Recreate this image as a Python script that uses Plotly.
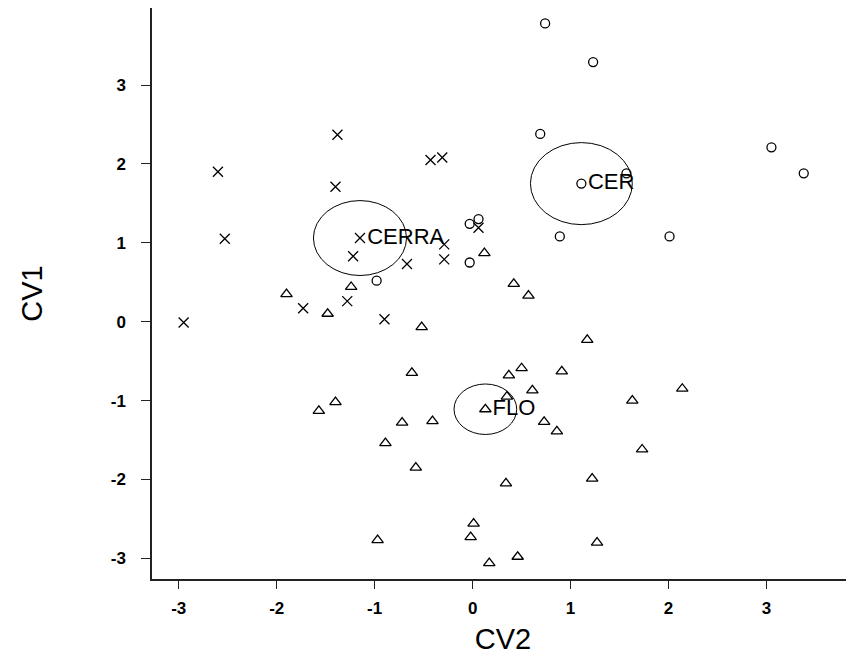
import plotly.graph_objects as go

# ---- data ----
cerra_cv2 = [-1.38, -2.60, -1.40, -0.43, -0.31, -2.53, -1.22, -0.67, -0.29, -0.29, 0.06, -1.28, -2.95, -1.73, -0.90]
cerra_cv1 = [2.37, 1.90, 1.71, 2.05, 2.08, 1.05, 0.83, 0.73, 0.98, 0.79, 1.19, 0.26, -0.01, 0.17, 0.03]

cer_cv2 = [0.74, 1.23, 0.69, 1.57, 3.05, 3.38, 0.89, 2.01, -0.03, 0.06, -0.03, -0.98]
cer_cv1 = [3.78, 3.29, 2.38, 1.88, 2.21, 1.88, 1.08, 1.08, 1.24, 1.30, 0.75, 0.52]

flo_cv2 = [0.12, 0.42, 0.57, -1.24, -1.90, -1.48, -0.52, -0.62, -1.40, -1.57, -0.72, -0.41,
           -0.89, -0.58, 0.01, -0.02, -0.97, 0.17, 1.17, 0.50, 0.37, 0.91, 0.61, 0.35,
           2.14, 1.63, 0.73, 0.86, 1.73, 1.22, 0.34, 1.27, 0.46]
flo_cv1 = [0.87, 0.48, 0.33, 0.44, 0.35, 0.10, -0.07, -0.65, -1.02, -1.13, -1.28, -1.26,
           -1.54, -1.85, -2.56, -2.73, -2.77, -3.06, -0.23, -0.59, -0.68, -0.63, -0.87, -0.95,
           -0.85, -1.00, -1.27, -1.39, -1.62, -1.99, -2.05, -2.80, -2.98]

centroid_names = ["CERRA", "CER", "FLO"]
centroid_cv2 = [-1.15, 1.11, 0.13]
centroid_cv1 = [1.06, 1.75, -1.11]
centroid_radius = [0.475, 0.52, 0.32]

x_ticks = [-3, -2, -1, 0, 1, 2, 3]
y_ticks = [-3, -2, -1, 0, 1, 2, 3]

# ---- styles ----
FONT = "Liberation Sans, Arial, sans-serif"
symbols = {"CERRA": "x-thin", "CER": "circle-open", "FLO": "triangle-up-open"}
sizes = {"CERRA": 10, "CER": 9, "FLO": 10}

fig = go.Figure()

groups = [("CERRA", cerra_cv2, cerra_cv1), ("CER", cer_cv2, cer_cv1), ("FLO", flo_cv2, flo_cv1)]
for name, xs, ys in groups:
    fig.add_trace(go.Scatter(
        x=xs, y=ys, mode="markers", name=name,
        marker=dict(symbol=symbols[name], size=sizes[name], color="black",
                    line=dict(color="black", width=1.3)),
        showlegend=False, hoverinfo="x+y",
    ))

# centroids with labels, one trace per group
for name, cx, cy in zip(centroid_names, centroid_cv2, centroid_cv1):
    fig.add_trace(go.Scatter(
        x=[cx], y=[cy], mode="markers+text",
        text=[name], textposition="middle right",
        textfont=dict(family=FONT, size=22, color="black"),
        marker=dict(symbol=symbols[name], size=sizes[name], color="black",
                    line=dict(color="black", width=1.3)),
        showlegend=False,
    ))

# confidence circles around the centroids
for cx, cy, r in zip(centroid_cv2, centroid_cv1, centroid_radius):
    fig.add_shape(type="circle", xref="x", yref="y",
                  x0=cx - r, x1=cx + r, y0=cy - r, y1=cy + r,
                  line=dict(color="black", width=1), fillcolor="rgba(0,0,0,0)")

# page body has an 8px margin, so the figure is 846x647 placed at (8,8)
fig.update_layout(
    width=846, height=647,
    margin=dict(l=144, r=0, t=0, b=76, autoexpand=False),
    paper_bgcolor="white", plot_bgcolor="white",
    font=dict(family=FONT, color="black"),
    showlegend=False,
)
fig.update_xaxes(
    range=[-3.273, 3.893], tickvals=x_ticks, ticktext=[str(v) for v in x_ticks],
    showgrid=False, zeroline=False, showline=True, linecolor="#222", linewidth=1.5,
    ticks="outside", ticklen=8, tickwidth=1.3, tickcolor="#222",
    tickfont=dict(family=FONT, size=17, color="black", weight="bold"),
    ticklabelstandoff=5,
    title=dict(text="CV2", font=dict(family=FONT, size=29, color="black"), standoff=14),
)
fig.update_yaxes(
    range=[-3.262, 3.976], tickvals=y_ticks, ticktext=[str(v) for v in y_ticks],
    showgrid=False, zeroline=False, showline=True, linecolor="#222", linewidth=1.5,
    ticks="outside", ticklen=9, tickwidth=1.3, tickcolor="#222",
    tickfont=dict(family=FONT, size=17, color="black", weight="bold"),
    ticklabelstandoff=12,
    title=dict(text="CV1", font=dict(family=FONT, size=29, color="black"), standoff=60),
)

fig.write_html("out.html")
